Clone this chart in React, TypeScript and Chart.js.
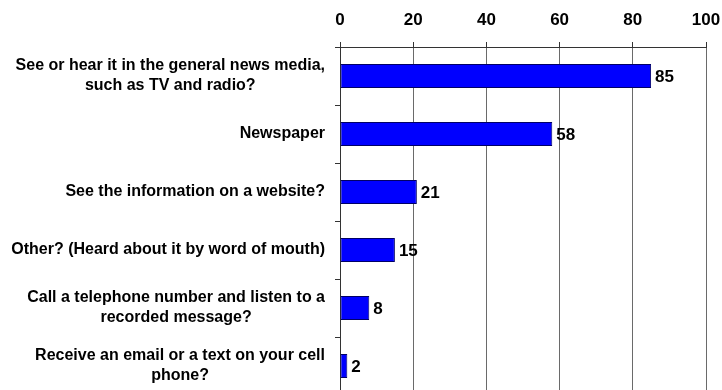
import React, { useEffect, useRef } from "react";
import { Chart, registerables } from "chart.js";

Chart.register(...registerables);

const categories: string[][] = [
  ["See or hear it in the general news media,", "such as TV and radio?"],
  ["Newspaper"],
  ["See the information on a website?"],
  ["Other? (Heard about it by word of mouth)"],
  ["Call a telephone number and listen to a", "recorded message?"],
  ["Receive an email or a text on your cell", "phone?"],
];
const values: number[] = [85, 58, 21, 15, 8, 2];
const xTicks: number[] = [0, 20, 40, 60, 80, 100];

const FONT = "'Liberation Sans', Arial, Helvetica, sans-serif";

export default function App() {
  const ref = useRef<HTMLCanvasElement | null>(null);

  useEffect(() => {
    const canvas = ref.current;
    if (!canvas) return;

    const labelPlugin = {
      id: "catLabels",
      afterDraw(chart: any) {
        const ctx = chart.ctx;
        const ys = chart.scales.y;
        ctx.save();
        ctx.font = `bold 16px ${FONT}`;
        ctx.fillStyle = "#000";
        ctx.textAlign = "center";
        ctx.textBaseline = "middle";
        const rightEdge = chart.chartArea.left - 15;
        categories.forEach((lines, i) => {
          const yc = ys.getPixelForValue(i);
          const maxW = Math.max(...lines.map((l) => ctx.measureText(l).width));
          const cx = rightEdge - maxW / 2;
          const lh = 20;
          const start = yc - ((lines.length - 1) * lh) / 2;
          lines.forEach((l, j) => ctx.fillText(l, cx, start + j * lh));
        });
        ctx.restore();
      },
      afterDatasetsDraw(chart: any) {
        const ctx = chart.ctx;
        const meta = chart.getDatasetMeta(0);
        ctx.save();
        ctx.font = `bold 17px ${FONT}`;
        ctx.fillStyle = "#000";
        ctx.textAlign = "left";
        ctx.textBaseline = "middle";
        meta.data.forEach((bar: any, i: number) => {
          ctx.fillText(String(values[i]), bar.x + 4, bar.y + 1);
        });
        ctx.restore();
      },
    };

    const chart = new Chart(canvas, {
      type: "bar",
      data: {
        labels: categories.map((c) => c.join(" ")),
        datasets: [
          {
            data: values,
            backgroundColor: "#0000FF",
            borderColor: "#000066",
            borderWidth: 1,
            borderSkipped: false,
            barPercentage: 0.414,
            categoryPercentage: 1,
          },
        ],
      },
      options: {
        indexAxis: "y",
        responsive: false,
        animation: false,
        devicePixelRatio: 1,
        layout: { padding: { left: 0, right: 16, top: 0, bottom: 5 } },
        plugins: {
          legend: { display: false },
          tooltip: { enabled: false },
        },
        scales: {
          x: {
            type: "linear",
            position: "top",
            min: xTicks[0],
            max: xTicks[xTicks.length - 1],
            afterBuildTicks: (scale: any) => {
              scale.ticks = xTicks.map((v) => ({ value: v }));
            },
            afterFit: (scale: any) => {
              scale.height = 47;
              scale.paddingLeft = 0;
              scale.paddingRight = 0;
            },
            ticks: {
              font: { family: FONT, size: 17, weight: "bold" },
              color: "#000",
              padding: 11,
              maxRotation: 0,
            },
            grid: {
              color: "#6a6a6a",
              tickColor: "#333",
              tickLength: 5,
              drawTicks: true,
            },
            border: { display: true, color: "#333" },
          },
          y: {
            type: "category",
            position: "left",
            afterFit: (scale: any) => {
              scale.width = 340;
              scale.paddingTop = 0;
              scale.paddingBottom = 0;
            },
            ticks: { display: false },
            grid: {
              offset: true,
              drawOnChartArea: false,
              drawTicks: true,
              tickLength: 5,
              color: "#333",
            },
            border: { display: true, color: "#333" },
          },
        },
      },
      plugins: [labelPlugin],
    });

    return () => chart.destroy();
  }, []);

  return (
    <div
      style={{
        position: "fixed",
        top: 0,
        left: 0,
        width: 722,
        height: 390,
        overflow: "hidden",
        background: "#fff",
      }}
    >
      <canvas ref={ref} width={722} height={400} style={{ width: 722, height: 400, display: "block" }} />
    </div>
  );
}
